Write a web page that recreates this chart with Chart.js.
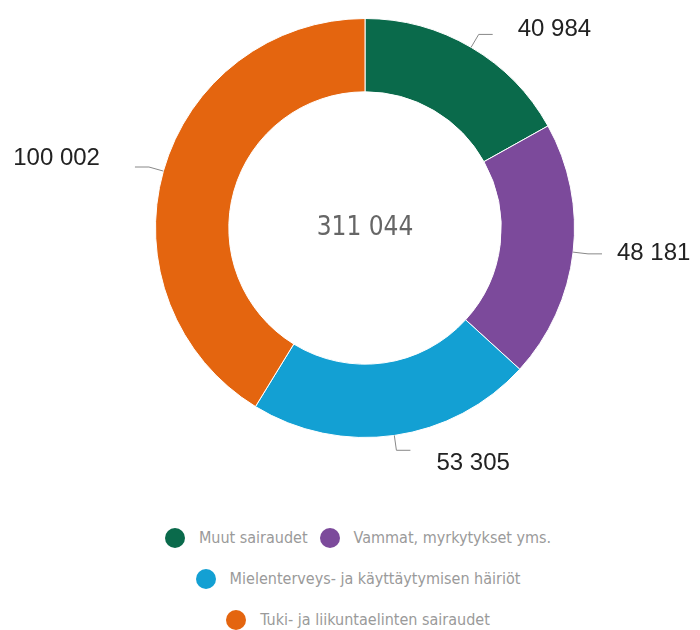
<!DOCTYPE html>
<html>
<head>
<meta charset="utf-8">
<script src="https://cdn.jsdelivr.net/npm/chart.js@4"></script>
<style>
  body { margin: 0; background: #fff; width: 700px; height: 630px; overflow: hidden; }
  #wrap { position: relative; width: 700px; height: 515px; }
  #legend {
    width: 460px; margin: 2px 0 0 128px;
    display: flex; flex-wrap: wrap; justify-content: center;
    font-family: "DejaVu Sans Condensed", "Liberation Sans Narrow", sans-serif;
    font-size: 16px; color: #9a9a9a;
  }
  .item { display: flex; align-items: center; height: 41px; margin: 0 6px; }
  .dot { width: 20px; height: 20px; border-radius: 50%; margin-right: 14px; }
</style>
</head>
<body>
<div id="wrap"><canvas id="chart"></canvas></div>
<div id="legend"></div>
<script>
// Data
const categories = ['Muut sairaudet', 'Vammat, myrkytykset yms.', 'Mielenterveys- ja käyttäytymisen häiriöt', 'Tuki- ja liikuntaelinten sairaudet'];
const values = [40984, 48181, 53305, 100002];
const centerText = '311 044';
const colors = ['#0a6a4b', '#7c4a9b', '#13a0d3', '#e4650f'];

const fmt = v => String(v).replace(/\B(?=(\d{3})+(?!\d))/g, ' ');

// leader lines with value labels outside each slice
const outLabels = {
    id: 'outLabels',
    afterDatasetsDraw(chart, args, opts) {
        const c = chart.ctx;
        const arcs = chart.getDatasetMeta(0).data;
        c.save();
        c.font = '24px "Liberation Sans", Arial, sans-serif';
        c.fillStyle = '#222';
        c.strokeStyle = '#888';
        c.lineWidth = 1;
        c.textBaseline = 'middle';
        arcs.forEach((arc, i) => {
            const p = arc.getProps(['x', 'y', 'startAngle', 'endAngle', 'outerRadius']);
            const a = (p.startAngle + p.endAngle) / 2;
            const x0 = p.x + Math.cos(a) * p.outerRadius;
            const y0 = p.y + Math.sin(a) * p.outerRadius;
            const x1 = p.x + Math.cos(a) * (p.outerRadius + 15);
            const y1 = p.y + Math.sin(a) * (p.outerRadius + 15);
            const right = Math.cos(a) >= -0.2;
            const x2 = x1 + (right ? 14 : -14);
            c.beginPath();
            c.moveTo(x0, y0);
            c.lineTo(x1, y1);
            c.lineTo(x2, y1);
            c.stroke();
            const n = opts.nudge[i] || [0, 0];
            c.textAlign = right ? 'left' : 'right';
            c.fillText(fmt(values[i]), x2 + (right ? 14 : -14) + n[0], y1 - 4 + n[1]);
        });
        c.restore();
    }
};

const centerLabel = {
    id: 'centerLabel',
    afterDatasetsDraw(chart) {
        const arc = chart.getDatasetMeta(0).data[0];
        const c = chart.ctx;
        c.save();
        c.font = '26px "DejaVu Sans Condensed", sans-serif';
        c.fillStyle = '#666';
        c.textAlign = 'center';
        c.textBaseline = 'middle';
        c.fillText(centerText, arc.x, arc.y);
        c.restore();
    }
};

new Chart(document.getElementById('chart'), {
    type: 'doughnut',
    data: {
        labels: categories,
        datasets: [{
            data: values,
            backgroundColor: colors,
            borderColor: '#fff',
            borderWidth: 1
        }]
    },
    options: {
        responsive: true,
        maintainAspectRatio: false,
        animation: false,
        cutout: '65%',
        layout: { padding: { top: 18, bottom: 77, left: 155, right: 125 } },
        plugins: {
            legend: { display: false },
            tooltip: { enabled: false },
            outLabels: { nudge: [[11, -1], [1, 4], [12, 17], [-21, -5]] }
        }
    },
    plugins: [outLabels, centerLabel]
});

// HTML legend
const legend = document.getElementById('legend');
categories.forEach((cat, i) => {
    const item = document.createElement('div');
    item.className = 'item';
    item.innerHTML = '<span class="dot" style="background:' + colors[i] + '"></span>' + cat;
    legend.appendChild(item);
});
</script>
</body>
</html>
